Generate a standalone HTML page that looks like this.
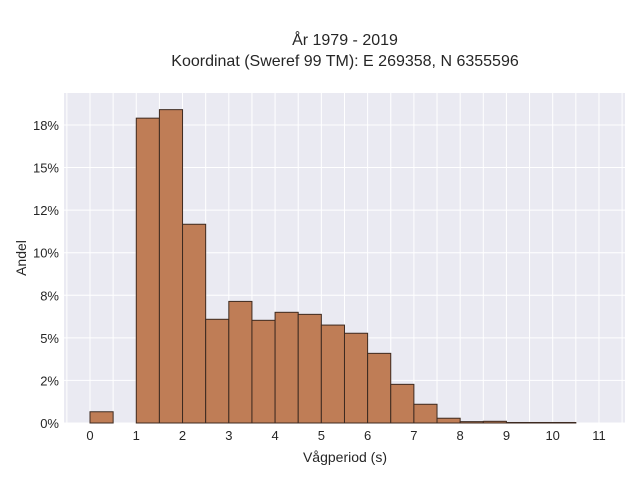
<!DOCTYPE html>
<html><head><meta charset="utf-8"><style>
body{margin:0;background:#fff;}
svg text{font-family:"Liberation Sans",sans-serif;fill:#262626;}
</style></head><body>
<svg id="chart" width="640" height="480" xmlns="http://www.w3.org/2000/svg">
<text x="345" y="45" font-size="16" text-anchor="middle">År 1979 - 2019</text>
<text x="345" y="66" font-size="16" text-anchor="middle">Koordinat (Sweref 99 TM): E 269358, N 6355596</text>
<rect x="64" y="93" width="561" height="330" fill="#eaeaf2"/>
<g id="grid"></g>
<g id="bars"></g>
<g id="ticks"></g>
<text x="345" y="462" font-size="14" text-anchor="middle">Vågperiod (s)</text>
<text x="26" y="258" font-size="14" text-anchor="middle" transform="rotate(-90 26 258)">Andel</text>
</svg>
<script>
const binStarts=[0,0.5,1,1.5,2,2.5,3,3.5,4,4.5,5,5.5,6,6.5,7,7.5,8,8.5,9,9.5,10];
const binValues=[0.66,0,17.9,18.4,11.67,6.09,7.14,6.03,6.5,6.38,5.75,5.27,4.09,2.27,1.1,0.28,0.08,0.1,0.03,0.03,0.03];
const binWidth=0.5;
const xTicks=[0,1,2,3,4,5,6,7,8,9,10,11];
const yTicks=[0,2.5,5,7.5,10,12.5,15,17.5];
const yTickLabels=["0%","2%","5%","8%","10%","12%","15%","18%"];
const NS="http://www.w3.org/2000/svg";
function xs(v){return 90+v*46.27;}
function ys(v){return 423-v*17.03;}
function mk(t,a,p){const e=document.createElementNS(NS,t);for(const k in a)e.setAttribute(k,a[k]);p.appendChild(e);return e;}
const grid=document.getElementById('grid'),bars=document.getElementById('bars'),ticks=document.getElementById('ticks');
for(let v=-0.5;v<=11.5;v+=0.5){const l=mk('line',{x1:xs(v),x2:xs(v),y1:93,y2:423,stroke:'#fff','stroke-width':1},grid);

}
yTicks.forEach((v,i)=>{const l=mk('line',{x1:64,x2:625,y1:ys(v),y2:ys(v),stroke:'#fff','stroke-width':1},grid);


const t=mk('text',{x:59,y:ys(v)+5,'font-size':13,'text-anchor':'end'},ticks);t.textContent=yTickLabels[i];

});
xTicks.forEach(v=>{const t=mk('text',{x:xs(v),y:440,'font-size':13,'text-anchor':'middle'},ticks);t.textContent=v;

});
binStarts.forEach((s,i)=>{const v=binValues[i];if(v<=0)return;
const r=mk('rect',{x:xs(s),y:ys(v),width:xs(s+binWidth)-xs(s),height:ys(0)-ys(v),fill:'#bf7d56',stroke:'#3d2a20','stroke-width':1},bars);

});
</script>
</body></html>
